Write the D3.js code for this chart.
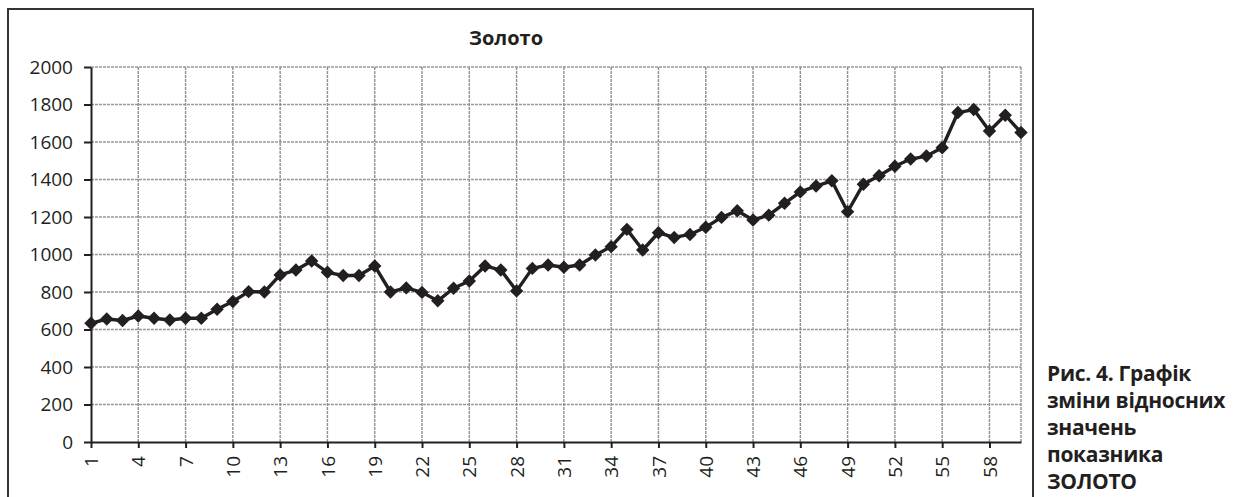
<!DOCTYPE html>
<html>
<head>
<meta charset="utf-8">
<script src="https://cdn.jsdelivr.net/npm/d3@7"></script>
<style>
  body { margin: 0; background: #fff; }
  svg { display: block; font-family: "Open Sans", sans-serif; }
  .grid line { stroke: #999; stroke-width: 1.4; stroke-dasharray: 3 1; }
  .grid line.v { stroke: #8e8e8e; }
  .axis path, .axis line { stroke: #231f20; stroke-width: 2; }
  .axis text { font-size: 19px; fill: #231f20; font-family: "Open Sans", sans-serif; }
</style>
</head>
<body>
<svg width="1237" height="497"></svg>
<script>
var title = "Золото";
var caption = ["Рис. 4. Графік", "зміни відносних", "значень", "показника", "ЗОЛОТО"];

var periods = d3.range(1, 61);
var gold = [
    633, 656, 648, 672, 660, 651, 660, 660, 708, 749,
    802, 800, 891, 917, 965, 905, 888, 888, 939, 800,
    822, 798, 753, 820, 859, 939, 917, 806, 926, 944,
    932, 944, 997, 1042, 1134, 1024, 1116, 1091, 1107, 1145,
    1198, 1233, 1184, 1210, 1273, 1334, 1365, 1393, 1228, 1375,
    1420, 1471, 1509, 1525, 1569, 1757, 1773, 1659, 1743, 1651
];
var yTicks = [0, 200, 400, 600, 800, 1000, 1200, 1400, 1600, 1800, 2000];
var xTicks = periods.filter(function (d) { return (d - 1) % 3 === 0; });

var svg = d3.select("svg");

var margin = {left: 91, top: 67, right: 1021, bottom: 442};

var x = d3.scaleLinear().domain([1, 60]).range([margin.left, margin.right]);
var y = d3.scaleLinear().domain([0, 2000]).range([margin.bottom, margin.top]);

// outer frame
svg.append("rect")
    .attr("x", 8).attr("y", 9)
    .attr("width", 1025).attr("height", 500)
    .attr("fill", "none")
    .attr("stroke", "#333")
    .attr("stroke-width", 2);

svg.append("text")
    .attr("x", 506).attr("y", 45)
    .attr("text-anchor", "middle")
    .attr("font-size", 20)
    .attr("font-weight", "bold")
    .attr("fill", "#231f20")
    .text(title);

// grid
var grid = svg.append("g").attr("class", "grid");
grid.selectAll(".h").data(yTicks.slice(1)).enter().append("line")
    .attr("class", "h")
    .attr("x1", margin.left).attr("x2", margin.right)
    .attr("y1", function (d) { return y(d); })
    .attr("y2", function (d) { return y(d); });
grid.selectAll(".v").data(xTicks.slice(1).concat([60])).enter().append("line")
    .attr("class", "v")
    .attr("y1", margin.top).attr("y2", margin.bottom)
    .attr("x1", function (d) { return x(d); })
    .attr("x2", function (d) { return x(d); });

// axes
svg.append("g")
    .attr("class", "axis")
    .attr("transform", "translate(" + margin.left + ",0)")
    .call(d3.axisLeft(y).tickValues(yTicks).tickFormat(d3.format("d"))
        .tickSize(7).tickPadding(11).tickSizeOuter(0));

var xAxis = svg.append("g")
    .attr("class", "axis")
    .attr("transform", "translate(0," + margin.bottom + ")")
    .call(d3.axisBottom(x).tickValues(xTicks).tickSize(6).tickFormat(d3.format("d")).tickSizeOuter(0));
xAxis.selectAll("text")
    .attr("transform", "rotate(-90)")
    .attr("text-anchor", "end")
    .attr("x", -14)
    .attr("y", 0)
    .attr("dy", "0.35em");

// series
var line = d3.line()
    .x(function (d, i) { return x(periods[i]); })
    .y(function (d) { return y(d); });

svg.append("path")
    .datum(gold)
    .attr("d", line)
    .attr("fill", "none")
    .attr("stroke", "#231f20")
    .attr("stroke-width", 3.4)
    .attr("stroke-linejoin", "round");

svg.selectAll(".marker").data(gold).enter().append("path")
    .attr("class", "marker")
    .attr("d", d3.symbol().type(d3.symbolDiamond2).size(115))
    .attr("transform", function (d, i) { return "translate(" + x(periods[i]) + "," + y(d) + ")"; })
    .attr("fill", "#231f20");

// caption
svg.append("g").selectAll("text").data(caption).enter().append("text")
    .attr("x", 1047)
    .attr("y", function (d, i) { return 381 + i * 27; })
    .attr("font-size", 21)
    .attr("font-weight", "bold")
    .attr("fill", "#231f20")
    .attr("letter-spacing", -0.3)
    .text(function (d) { return d; });
</script>
</body>
</html>
